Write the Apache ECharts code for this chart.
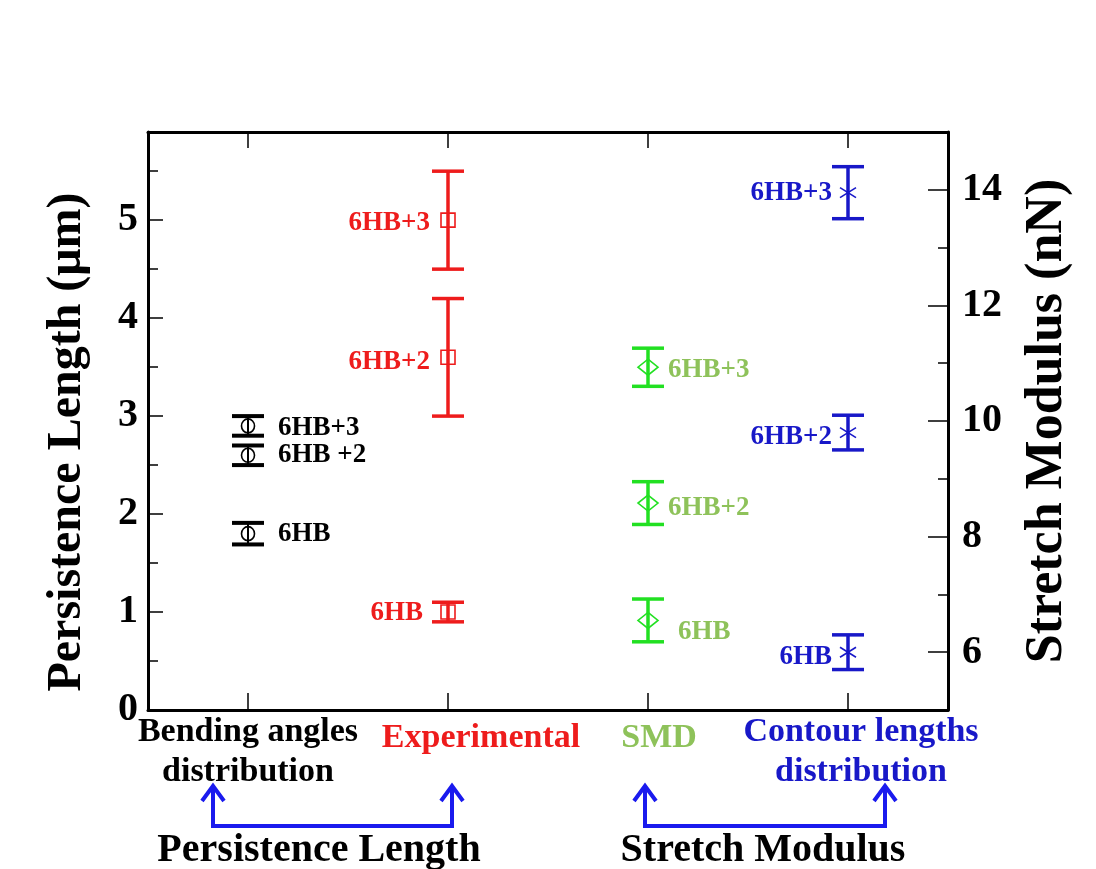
<!DOCTYPE html>
<html>
<head>
<meta charset="utf-8">
<script src="https://cdn.jsdelivr.net/npm/echarts@6/dist/echarts.min.js"></script>
<style>
  html, body { margin: 0; padding: 0; background: #fff; }
  #chart { width: 1096px; height: 869px; }
</style>
</head>
<body>
<div id="chart"></div>
<script>
// categories on the x axis
const categories = ["Bending angles\ndistribution", "Experimental", "SMD", "Contour lengths\ndistribution"];

// persistence length (um), left axis
const bendingMean = [1.8, 2.6, 2.9];
const bendingErr = [0.11, 0.1, 0.1];
const bendingLabels = ["6HB", "6HB +2", "6HB+3"];

const experimentalMean = [1.0, 3.6, 5.0];
const experimentalErr = [0.1, 0.6, 0.5];
const experimentalLabels = ["6HB", "6HB+2", "6HB+3"];

// stretch modulus (nN), right axis
const smdMean = [6.55, 8.58, 10.93];
const smdErr = [0.37, 0.37, 0.33];
const smdLabels = ["6HB", "6HB+2", "6HB+3"];

const contourMean = [6.0, 9.8, 13.95];
const contourErr = [0.3, 0.3, 0.45];
const contourLabels = ["6HB", "6HB+2", "6HB+3"];

// tick labels
const leftTicks = [0, 1, 2, 3, 4, 5];
const leftMinor = [0.5, 1.5, 2.5, 3.5, 4.5, 5.5];
const rightTicks = [6, 8, 10, 12, 14];
const rightMinor = [7, 9, 11, 13];

const serif = "'Liberation Serif', 'Times New Roman', serif";
const catColors = ["#000000", "#ee1c1c", "#8ec25a", "#1818c8"];

const chart = echarts.init(document.getElementById("chart"));

// error bar + symbol + text label, all placed via api.coord
function makeRender(cfg) {
  return function (params, api) {
    const x = api.value(0), m = api.value(1), e = api.value(2);
    const c = api.coord([x, m]);
    const t = api.coord([x, m + e]);
    const b = api.coord([x, m - e]);
    const hw = 16;
    const lineStyle = { stroke: cfg.color, lineWidth: cfg.barWidth };
    const kids = [
      { type: "line", shape: { x1: c[0], y1: t[1], x2: c[0], y2: b[1] }, style: lineStyle },
      { type: "line", shape: { x1: c[0] - hw, y1: t[1], x2: c[0] + hw, y2: t[1] }, style: { stroke: cfg.color, lineWidth: cfg.capWidth } },
      { type: "line", shape: { x1: c[0] - hw, y1: b[1], x2: c[0] + hw, y2: b[1] }, style: { stroke: cfg.color, lineWidth: cfg.capWidth } }
    ];
    const sym = { fill: "none", stroke: cfg.color, lineWidth: 1.6 };
    if (cfg.symbol === "circle") {
      kids.push({ type: "ellipse", shape: { cx: c[0], cy: c[1], rx: 6.5, ry: 7 }, style: sym });
    } else if (cfg.symbol === "square") {
      kids.push({ type: "rect", shape: { x: c[0] - 7, y: c[1] - 7, width: 14, height: 14 }, style: sym });
    } else if (cfg.symbol === "diamond") {
      kids.push({ type: "polygon", shape: { points: [[c[0], c[1] - 8], [c[0] + 10, c[1]], [c[0], c[1] + 8], [c[0] - 10, c[1]]] }, style: sym });
    } else {
      kids.push({ type: "line", shape: { x1: c[0], y1: c[1] - 9, x2: c[0], y2: c[1] + 9 }, style: sym });
      kids.push({ type: "line", shape: { x1: c[0] - 8, y1: c[1] - 5, x2: c[0] + 8, y2: c[1] + 5 }, style: sym });
      kids.push({ type: "line", shape: { x1: c[0] - 8, y1: c[1] + 5, x2: c[0] + 8, y2: c[1] - 5 }, style: sym });
    }
    const off = cfg.labelOffset[params.dataIndex];
    kids.push({
      type: "text",
      x: c[0] + off[0],
      y: c[1] + off[1],
      style: {
        text: cfg.labels[params.dataIndex],
        fill: cfg.labelColor,
        font: "bold 27px " + serif,
        align: cfg.align,
        verticalAlign: "middle"
      }
    });
    return { type: "group", children: kids };
  };
}

function errSeries(catIdx, means, errs, yAxisIndex, cfg) {
  return {
    type: "custom",
    xAxisIndex: 0,
    yAxisIndex: yAxisIndex,
    data: means.map((v, i) => [catIdx, v, errs[i]]),
    encode: { x: 0, y: 1 },
    renderItem: makeRender(cfg),
    silent: true,
    z: 5
  };
}

const richStyles = {};
catColors.forEach((col, i) => {
  richStyles["c" + i] = {
    color: col,
    fontFamily: serif,
    fontWeight: "bold",
    fontSize: 34,
    lineHeight: 40,
    padding: [[0, 0, 0, 0], [12, 0, 0, 66], [12, 0, 0, 22], [0, 0, 0, 26]][i]
  };
});

const axisLine = { show: true, onZero: false, lineStyle: { color: "#000", width: 3 } };

chart.setOption({
  backgroundColor: "#fff",
  animation: false,
  grid: { left: 148, right: 148, top: 132, bottom: 159 },
  xAxis: [
    {
      type: "category",
      data: categories,
      position: "bottom",
      boundaryGap: true,
      axisLine: axisLine,
      axisTick: { show: true, inside: true, alignWithLabel: true, length: 17, lineStyle: { color: "#000", width: 1.5 } },
      axisLabel: {
        margin: 2,
        interval: 0,
        formatter: (value, idx) => value.split("\n").map(l => "{c" + idx + "|" + l + "}").join("\n"),
        rich: richStyles
      },
      splitLine: { show: false }
    },
    {
      type: "category",
      data: categories,
      position: "top",
      boundaryGap: true,
      axisLine: axisLine,
      axisTick: { show: true, inside: true, alignWithLabel: true, length: 16, lineStyle: { color: "#000", width: 1.5 } },
      axisLabel: { show: false },
      splitLine: { show: false }
    }
  ],
  yAxis: [
    {
      type: "value",
      position: "left",
      min: 0,
      max: 5.9,
      name: "Persistence Length (\u03bcm)",
      nameLocation: "middle",
      nameRotate: 90,
      nameGap: 56,
      nameTextStyle: { fontFamily: serif, fontWeight: "bold", fontSize: 48, color: "#000", padding: [0, 42, 0, 0] },
      axisLine: axisLine,
      axisTick: { show: true, inside: true, length: 15, customValues: leftTicks, lineStyle: { color: "#000", width: 1.5 } },
      axisLabel: { customValues: leftTicks, margin: 10, fontFamily: serif, fontWeight: "bold", fontSize: 40, color: "#000" },
      splitLine: { show: false }
    },
    {
      type: "value",
      position: "left",
      min: 0,
      max: 5.9,
      axisLine: { show: false },
      axisTick: { show: true, inside: true, length: 10, customValues: leftMinor, lineStyle: { color: "#000", width: 1.5 } },
      axisLabel: { show: false },
      splitLine: { show: false }
    },
    {
      type: "value",
      position: "right",
      min: 5,
      max: 15,
      name: "Stretch Modulus (nN)",
      nameLocation: "middle",
      nameRotate: 90,
      nameGap: 74,
      nameTextStyle: { fontFamily: serif, fontWeight: "bold", fontSize: 52, color: "#000" },
      axisLine: axisLine,
      axisTick: { show: true, inside: true, length: 20, customValues: rightTicks, lineStyle: { color: "#000", width: 1.5 } },
      axisLabel: { customValues: rightTicks, margin: 14, fontFamily: serif, fontWeight: "bold", fontSize: 40, color: "#000" },
      splitLine: { show: false }
    },
    {
      type: "value",
      position: "right",
      min: 5,
      max: 15,
      axisLine: { show: false },
      axisTick: { show: true, inside: true, length: 10, customValues: rightMinor, lineStyle: { color: "#000", width: 1.5 } },
      axisLabel: { show: false },
      splitLine: { show: false }
    }
  ],
  series: [
    errSeries(0, bendingMean, bendingErr, 0, {
      color: "#000", labelColor: "#000", barWidth: 2, capWidth: 4, symbol: "circle",
      labels: bendingLabels, align: "left", labelOffset: [[30, 0], [30, 0], [30, 2]]
    }),
    errSeries(1, experimentalMean, experimentalErr, 0, {
      color: "#ee1c1c", labelColor: "#ee1c1c", barWidth: 3.5, capWidth: 3.5, symbol: "square",
      labels: experimentalLabels, align: "right", labelOffset: [[-25, 1], [-18, 5], [-18, 3]]
    }),
    errSeries(2, smdMean, smdErr, 2, {
      color: "#22e022", labelColor: "#8ec25a", barWidth: 3.5, capWidth: 3.5, symbol: "diamond",
      labels: smdLabels, align: "left", labelOffset: [[30, 12], [20, 5], [20, 3]]
    }),
    errSeries(3, contourMean, contourErr, 2, {
      color: "#1818c8", labelColor: "#1818c8", barWidth: 3.5, capWidth: 3.5, symbol: "star",
      labels: contourLabels, align: "right", labelOffset: [[-16, 5], [-16, 4], [-16, 0]]
    })
  ],
  graphic: [
    {
      type: "group",
      children: [
        { type: "polyline", shape: { points: [[213, 787], [213, 826], [452, 826], [452, 787]] }, style: { stroke: "#1a1aee", lineWidth: 4, fill: "none" } },
        { type: "polyline", shape: { points: [[202, 801], [213, 786], [224, 801]] }, style: { stroke: "#1a1aee", lineWidth: 4, fill: "none" } },
        { type: "polyline", shape: { points: [[441, 801], [452, 786], [463, 801]] }, style: { stroke: "#1a1aee", lineWidth: 4, fill: "none" } },
        { type: "polyline", shape: { points: [[645, 787], [645, 826], [885, 826], [885, 787]] }, style: { stroke: "#1a1aee", lineWidth: 4, fill: "none" } },
        { type: "polyline", shape: { points: [[634, 801], [645, 786], [656, 801]] }, style: { stroke: "#1a1aee", lineWidth: 4, fill: "none" } },
        { type: "polyline", shape: { points: [[874, 801], [885, 786], [896, 801]] }, style: { stroke: "#1a1aee", lineWidth: 4, fill: "none" } },
        { type: "text", x: 319, y: 851, style: { text: "Persistence Length", font: "bold 40px " + serif, fill: "#000", align: "center", verticalAlign: "middle" } },
        { type: "text", x: 763, y: 851, style: { text: "Stretch Modulus", font: "bold 40px " + serif, fill: "#000", align: "center", verticalAlign: "middle" } }
      ]
    }
  ]
});

window.addEventListener("resize", () => chart.resize());
</script>
</body>
</html>
